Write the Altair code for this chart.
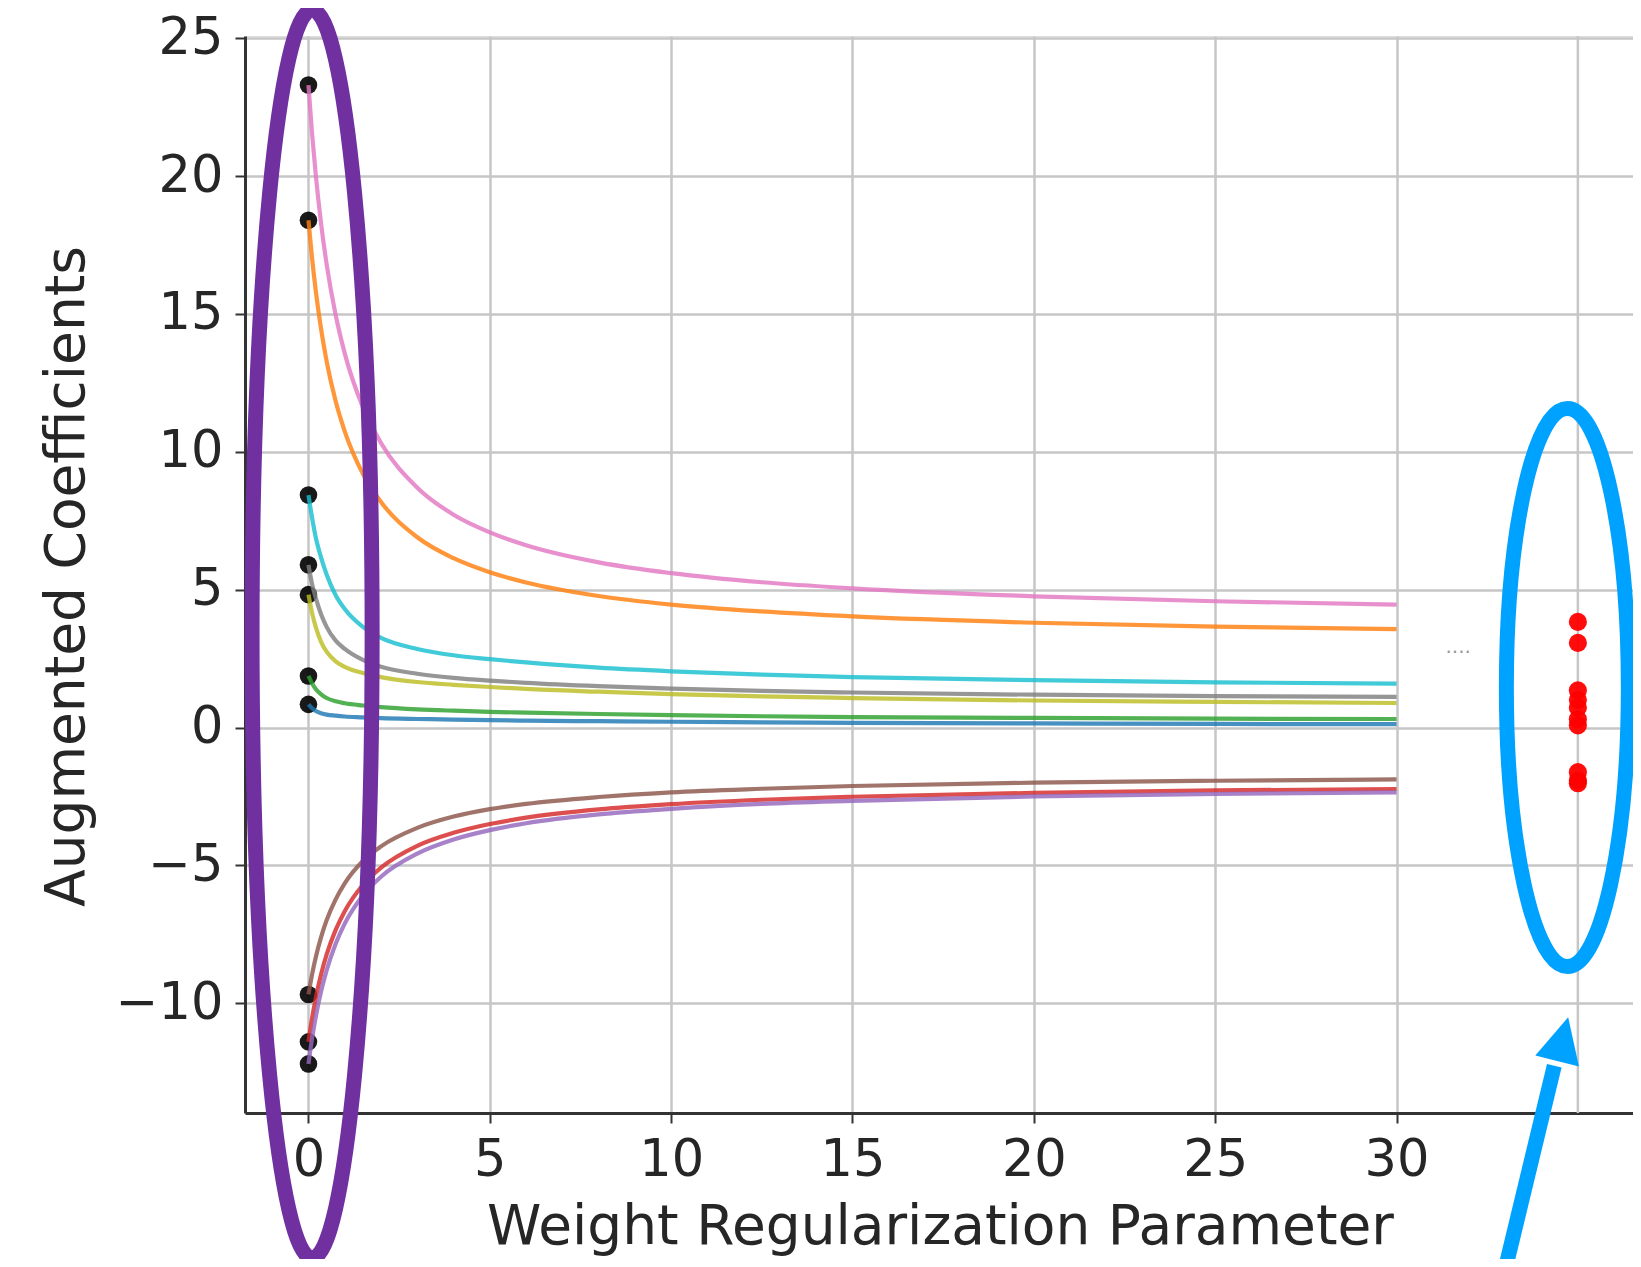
import altair as alt
import pandas as pd

# ---------------- data ----------------
LAMBDAS = [0, 0.1, 0.2, 0.35, 0.5, 0.75, 1, 1.5, 2, 3, 4, 5, 6, 8, 10, 12.5, 15, 20, 25, 30]

COEF_NAMES = ["w0", "w1", "w2", "w3", "w4", "w5", "w6", "w7", "w8", "w9"]
COEF_COLORS = ["#1f77b4", "#ff7f0e", "#2ca02c", "#d62728", "#9467bd",
               "#8c564b", "#e377c2", "#7f7f7f", "#bcbd22", "#17becf"]

PATH_BLUE = [0.84, 0.70, 0.60, 0.52, 0.47, 0.43, 0.40, 0.37, 0.34, 0.31, 0.29, 0.27, 0.25, 0.23, 0.21, 0.19, 0.17, 0.15, 0.13, 0.12]
PATH_ORANGE = [18.40, 17.01, 15.85, 14.43, 13.29, 11.83, 10.74, 9.20, 8.18, 6.90, 6.14, 5.63, 5.26, 4.77, 4.46, 4.21, 4.03, 3.80, 3.66, 3.57]
PATH_GREEN = [1.87, 1.60, 1.40, 1.20, 1.07, 0.95, 0.88, 0.80, 0.74, 0.66, 0.61, 0.57, 0.54, 0.49, 0.45, 0.41, 0.38, 0.35, 0.32, 0.31]
PATH_RED = [-11.40, -10.54, -9.82, -8.94, -8.24, -7.34, -6.66, -5.71, -5.08, -4.29, -3.82, -3.50, -3.27, -2.97, -2.78, -2.62, -2.51, -2.37, -2.28, -2.23]
PATH_PURPLE = [-12.20, -11.27, -10.50, -9.56, -8.81, -7.84, -7.11, -6.09, -5.41, -4.57, -4.06, -3.72, -3.47, -3.15, -2.95, -2.77, -2.66, -2.50, -2.41, -2.35]
PATH_BROWN = [-9.68, -8.95, -8.34, -7.59, -6.99, -6.23, -5.65, -4.84, -4.31, -3.64, -3.23, -2.96, -2.77, -2.52, -2.35, -2.22, -2.12, -2.00, -1.93, -1.88]
PATH_PINK = [23.30, 21.53, 20.06, 18.25, 16.81, 14.96, 13.57, 11.62, 10.32, 8.70, 7.72, 7.08, 6.61, 5.99, 5.60, 5.27, 5.05, 4.76, 4.58, 4.46]
PATH_GREY = [5.90, 5.20, 4.70, 4.10, 3.65, 3.15, 2.85, 2.45, 2.20, 1.95, 1.80, 1.70, 1.62, 1.50, 1.41, 1.33, 1.27, 1.19, 1.14, 1.11]
PATH_OLIVE = [4.82, 4.15, 3.65, 3.10, 2.75, 2.40, 2.20, 1.98, 1.83, 1.65, 1.55, 1.47, 1.40, 1.30, 1.21, 1.13, 1.07, 0.98, 0.93, 0.89]
PATH_CYAN = [8.43, 7.60, 6.90, 6.15, 5.55, 4.80, 4.30, 3.65, 3.25, 2.85, 2.62, 2.48, 2.36, 2.17, 2.04, 1.92, 1.83, 1.72, 1.64, 1.59]

PATHS = [PATH_BLUE, PATH_ORANGE, PATH_GREEN, PATH_RED, PATH_PURPLE,
         PATH_BROWN, PATH_PINK, PATH_GREY, PATH_OLIVE, PATH_CYAN]

START_X = 0
START_VALUES = [0.84, 18.40, 1.87, -11.40, -12.20, -9.68, 23.30, 5.90, 4.82, 8.43]
LIMIT_X = 35
LIMIT_VALUES = [0.08, 3.07, 0.30, -1.92, -2.02, -1.62, 3.83, 1.00, 0.72, 1.35]

X_TICKS = [0, 5, 10, 15, 20, 25, 30]
X_EXTRA_GRID = [35]
Y_TICKS = [-10, -5, 0, 5, 10, 15, 20, 25]
X_DOMAIN = [-1.75, 36.52]
Y_DOMAIN = [-13.98, 25.08]

# annotation anchors (data units)
PURPLE_ELLIPSE = {"lam": [0.1], "coef": [3.39]}
BLUE_ELLIPSE = {"lam": [34.71], "coef": [1.45]}
ARROW_SHAFT = {"lam": [33.03], "coef": [-19.46], "lam2": [34.35], "coef2": [-12.27]}
ARROW_HEAD = {"lam": [34.58], "coef": [-11.30]}
DOTS_TEXT = {"lam": [31.7], "coef": [2.7]}

# ---------------- tables ----------------
rows = []
for name, path in zip(COEF_NAMES, PATHS):
    for lam, v in zip(LAMBDAS, path):
        rows.append({"name": name, "lam": lam, "coef": v})
df_lines = pd.DataFrame(rows)
df_start = pd.DataFrame({"name": COEF_NAMES, "lam": [START_X] * len(COEF_NAMES), "coef": START_VALUES})
df_limit = pd.DataFrame({"name": COEF_NAMES, "lam": [LIMIT_X] * len(COEF_NAMES), "coef": LIMIT_VALUES})
df_grid = pd.DataFrame({"lam": X_EXTRA_GRID})

FONT = "DejaVu Sans"
TXT = "#262626"
AX = "#333333"
GRID = "#c6c6c6"

xscale = alt.Scale(domain=X_DOMAIN, nice=False, zero=False)
yscale = alt.Scale(domain=Y_DOMAIN, nice=False, zero=False)

xaxis = alt.Axis(values=X_TICKS, format="d", title="Weight Regularization Parameter",
                 labelFontSize=51, labelColor=TXT, labelFont=FONT, labelPadding=12,
                 labelFlush=False, labelOverlap=False,
                 tickSize=10, tickWidth=2, tickColor=AX,
                 domainColor=AX, domainWidth=3,
                 grid=True, gridColor=GRID, gridWidth=2.5,
                 titleFontSize=55, titleFont=FONT, titleFontWeight="normal", titleColor=TXT,
                 titleX=695, titleY=130, titleBaseline="alphabetic", titleAlign="center")
yaxis = alt.Axis(values=Y_TICKS, format="d", title="Augmented Coefficients",
                 labelFontSize=51, labelColor=TXT, labelFont=FONT, labelPadding=12,
                 labelFlush=False, labelOverlap=False,
                 tickSize=10, tickWidth=2, tickColor=AX,
                 domainColor=AX, domainWidth=3,
                 grid=True, gridColor=GRID, gridWidth=2.5,
                 titleFontSize=55, titleFont=FONT, titleFontWeight="normal", titleColor=TXT,
                 titleX=-162, titleY=540, titleAngle=270, titleBaseline="alphabetic",
                 titleAlign="center")

X = alt.X("lam:Q", scale=xscale, axis=xaxis)
Y = alt.Y("coef:Q", scale=yscale, axis=yaxis)
color = alt.Color("name:N", scale=alt.Scale(domain=COEF_NAMES, range=COEF_COLORS), legend=None)

grid35 = alt.Chart(df_grid).mark_rule(color=GRID, strokeWidth=2.5).encode(x=X)

start_dots = alt.Chart(df_start).mark_circle(size=310, color="black", opacity=0.9).encode(x=X, y=Y)

lines = alt.Chart(df_lines).mark_line(interpolate="monotone", strokeWidth=4.2, opacity=0.82).encode(
    x=X, y=Y, color=color, detail="name:N", order="lam:Q")

limit_dots = alt.Chart(df_limit).mark_circle(size=330, color="#ff0000", opacity=0.95).encode(x=X, y=Y)

dots_text = alt.Chart(pd.DataFrame(DOTS_TEXT)).mark_text(
    text="····", fontSize=20, color="#9a9a9a", font=FONT).encode(x=X, y=Y)


def ellipse_path(a):
    k = 0.5523
    ka = round(k * a, 4)
    a = round(a, 4)
    return (f"M0,-1 C{ka},-1 {a},-{k} {a},0 C{a},{k} {ka},1 0,1 "
            f"C-{ka},1 -{a},{k} -{a},0 C-{a},-{k} -{ka},-1 0,-1 Z")


purple_ell = alt.Chart(pd.DataFrame(PURPLE_ELLIPSE)).mark_point(
    shape=ellipse_path(60 / 624), size=1248 ** 2, filled=False, strokeWidth=15,
    color="#7030a0", opacity=1).encode(x=X, y=Y)

blue_ell = alt.Chart(pd.DataFrame(BLUE_ELLIPSE)).mark_point(
    shape=ellipse_path(61 / 279), size=558 ** 2, filled=False, strokeWidth=15,
    color="#00a2ff", opacity=1).encode(x=X, y=Y)

shaft = alt.Chart(pd.DataFrame(ARROW_SHAFT)).mark_rule(
    color="#00a2ff", strokeWidth=15, strokeCap="butt").encode(
    x=X, y=Y, x2="lam2:Q", y2="coef2:Q")

head = alt.Chart(pd.DataFrame(ARROW_HEAD)).mark_point(
    shape="M0,-1 L1,1 L-1,1 Z", size=2025, angle=14.2, filled=True,
    color="#00a2ff", opacity=1, strokeWidth=0).encode(x=X, y=Y)

chart = alt.layer(grid35, start_dots, lines, limit_dots, dots_text,
                  purple_ell, blue_ell, shaft, head).properties(
    width=1388, height=1077,
    autosize=alt.AutoSizeParams(type="none"),
    padding={"left": 237, "top": 28, "right": 0, "bottom": 146},
    background="white",
).configure_view(stroke="#808080", strokeWidth=3).configure(font=FONT)

chart.save("out.html", embed_options={"renderer": "svg", "actions": False})
